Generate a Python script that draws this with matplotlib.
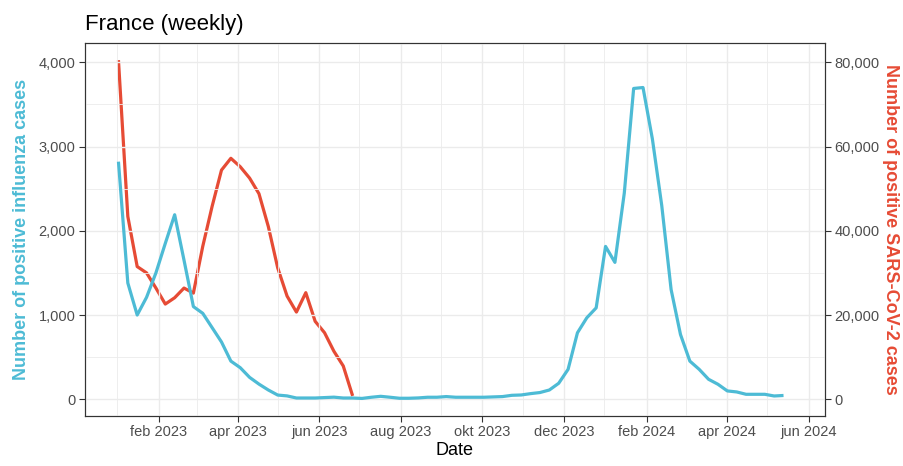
import numpy as np
import pandas as pd
import matplotlib
matplotlib.use("Agg")
import matplotlib.pyplot as plt
import matplotlib.dates as mdates
from matplotlib.ticker import FuncFormatter, MultipleLocator

plt.rcParams['font.family'] = ['Liberation Sans', 'DejaVu Sans']

# ---- data ----
start_week = "2023-01-02"
influenza = [2820, 1380, 1000, 1210, 1500, 1850, 2190, 1650, 1100, 1020,
             850, 680, 453, 375, 260, 180, 110, 50, 40, 15,
             15, 15, 20, 25, 15, 15, 10, 24, 35, 24,
             12, 12, 16, 24, 24, 32, 24, 24, 24, 24,
             28, 32, 47, 51, 67, 80, 110, 190, 355, 789,
             967, 1085, 1814, 1625, 2446, 3689, 3700, 3090, 2300, 1302,
             769, 453, 355, 237, 178, 99, 87, 59, 59, 59,
             39, 45]
sars_cov2 = [80500, 43400, 31500, 30000, 26400, 22600, 24100, 26400, 25200, 36300,
             45800, 54400, 57200, 55200, 52500, 48800, 41000, 31200, 24500, 20700,
             25300, 18500, 15800, 11400, 7900, 800]
x_tick_dates = ["2023-02-01", "2023-04-01", "2023-06-01", "2023-08-01", "2023-10-01",
                "2023-12-01", "2024-02-01", "2024-04-01", "2024-06-01"]
x_tick_labels = ["feb 2023", "apr 2023", "jun 2023", "aug 2023", "okt 2023",
                 "dec 2023", "feb 2024", "apr 2024", "jun 2024"]
x_minor_dates = ["2023-01-01", "2023-03-02", "2023-05-01", "2023-07-01", "2023-08-31",
                 "2023-10-31", "2023-12-31", "2024-03-01", "2024-05-01"]
sec_factor = 20

dates_flu = pd.date_range(start_week, periods=len(influenza), freq="7D")
dates_cov = pd.date_range(start_week, periods=len(sars_cov2), freq="7D")

BLUE = "#4DBBD5"
RED = "#E64B35"
GRID = "#EBEBEB"
TXT = "#4D4D4D"
FRAME = "#333333"

fig = plt.figure(figsize=(9.04, 4.66), dpi=100)
W, H = 904, 466
ax = fig.add_axes([85 / W, (H - 415.7) / H, 740 / W, 373 / H])
ax2 = ax.twinx()
ax.set_zorder(ax2.get_zorder() + 1)
ax.patch.set_visible(False)
ax2.patch.set_facecolor("white")

ylo, yhi = -195, 4232
ax.set_ylim(ylo, yhi)
ax2.set_ylim(ylo * sec_factor, yhi * sec_factor)
ax.set_xlim(pd.Timestamp("2022-12-08"), pd.Timestamp("2024-06-13"))

ax2.plot(dates_cov, sars_cov2, color=RED, lw=2.3,
         solid_joinstyle="round", solid_capstyle="butt")
ax.plot(dates_flu, influenza, color=BLUE, lw=2.3,
        solid_joinstyle="round", solid_capstyle="butt")

# grid
ax.set_yticks([0, 1000, 2000, 3000, 4000])
ax.set_yticks([500, 1500, 2500, 3500], minor=True)
ax2.set_yticks([0, 20000, 40000, 60000, 80000])
ax.set_xticks(pd.to_datetime(x_tick_dates))
ax.set_xticklabels(x_tick_labels)
ax.set_xticks(pd.to_datetime(x_minor_dates), minor=True)
ax.grid(True, which="major", color=GRID, lw=1.0)
ax.grid(True, which="minor", color=GRID, lw=0.6)
ax.set_axisbelow(True)

fmt = FuncFormatter(lambda v, p: f"{int(v):,}")
ax.yaxis.set_major_formatter(fmt)
ax2.yaxis.set_major_formatter(fmt)

for a in (ax, ax2):
    a.tick_params(which="major", length=4, width=0.8, color=FRAME,
                  labelsize=10.5, labelcolor=TXT, pad=3)
    a.tick_params(which="minor", length=0)
    for s in a.spines.values():
        s.set_color(FRAME)
        s.set_linewidth(0.8)

ax.set_xlabel("Date", fontsize=13, color="black", labelpad=2)
ax.set_ylabel("Number of positive influenza cases", fontsize=13, color=BLUE,
              fontweight="bold", labelpad=6)
ax2.set_ylabel("Number of positive SARS-CoV-2 cases", fontsize=13, color=RED,
               fontweight="bold", rotation=270, labelpad=14)

fig.text(85 / W, 1 - 30 / H, "France (weekly)", fontsize=16, color="black",
         ha="left", va="baseline")

fig.savefig("out.png", dpi=100, facecolor="white")
